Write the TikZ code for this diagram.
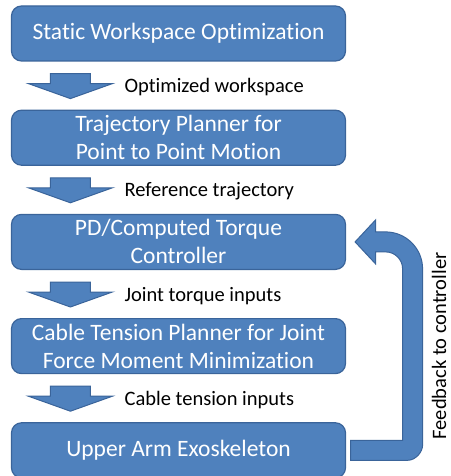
\documentclass[tikz,border=0pt]{standalone}
\usepackage{fontspec}
\setmainfont{Carlito}[Ligatures=NoCommon]
\usetikzlibrary{positioning,calc}
\definecolor{boxblue}{HTML}{4F81BD}
\definecolor{boxedge}{HTML}{3A649A}

\begin{document}
\begin{tikzpicture}[x=1pt,y=-1pt,
  box/.style={draw=boxedge,line width=1.2pt,fill=boxblue,rounded corners=10pt,text=white,
    align=center,inner sep=0pt,minimum width=334pt,minimum height=55pt,
    font=\fontsize{23.5}{28}\selectfont},
  flow/.style={draw=boxedge,line width=1pt,fill=boxblue},
  lbl/.style={font=\fontsize{20.5}{24}\selectfont,inner sep=0pt}]
\useasboundingbox (0,0) rectangle (450,476);
\node[box] (opt) at (178.5,33.5) {Static Workspace Optimization};
\node[box,below=48pt of opt] (traj) {Trajectory Planner for\\ Point to Point Motion};
\node[box,below=48pt of traj] (ctrl) {PD/Computed Torque\\ Controller};
\node[box,below=48pt of ctrl] (cable) {Cable Tension Planner for Joint\\ Force Moment Minimization};
\node[box,below=48pt of cable] (exo) {Upper Arm Exoskeleton};
% block arrows with their labels
\foreach \up/\txt [count=\i] in {opt/Optimized workspace,traj/Reference trajectory,
    ctrl/Joint torque inputs,cable/Cable tension inputs}{
  \coordinate (a\i) at ($(\up.south west)+(59.5,12)$);
  \draw[flow] (a\i) ++(-20,0) -- ++(40,0) -- ++(0,10) -- ++(22,0) -- ++(-42,15)
    -- ++(-42,-15) -- ++(22,0) -- cycle;
  \node[lbl,anchor=base west] (l\i) at ($(a\i)+(54,19)$) {\txt};
}
% feedback arrow
\draw[flow] ($(exo.east)+(4.5,10)$) -- ($(exo.east)+(61.5,10)$)
  .. controls +(8.3,0) and +(0,6.3) .. ($(exo.east)+(76.5,-5)$)
  -- ($(ctrl.east)+(76.5,27)$)
  .. controls +(0,-20.4) and +(20.4,0) .. ($(ctrl.east)+(39.5,-10)$)
  -- ($(ctrl.east)+(29.5,-10)$) -- ($(ctrl.east)+(29.5,-22)$)
  -- ($(ctrl.east)+(9,0)$)
  -- ($(ctrl.east)+(29.5,22)$) -- ($(ctrl.east)+(29.5,10)$)
  -- ($(ctrl.east)+(39.5,10)$)
  .. controls +(9.4,0) and +(0,-9.4) .. ($(ctrl.east)+(56.5,27)$)
  -- ($(exo.east)+(56.5,-10)$) -- ($(exo.east)+(4.5,-10)$) -- cycle;
\node[lbl,rotate=90] (fb) at (439,346) {Feedback to controller};
\end{tikzpicture}
\end{document}
